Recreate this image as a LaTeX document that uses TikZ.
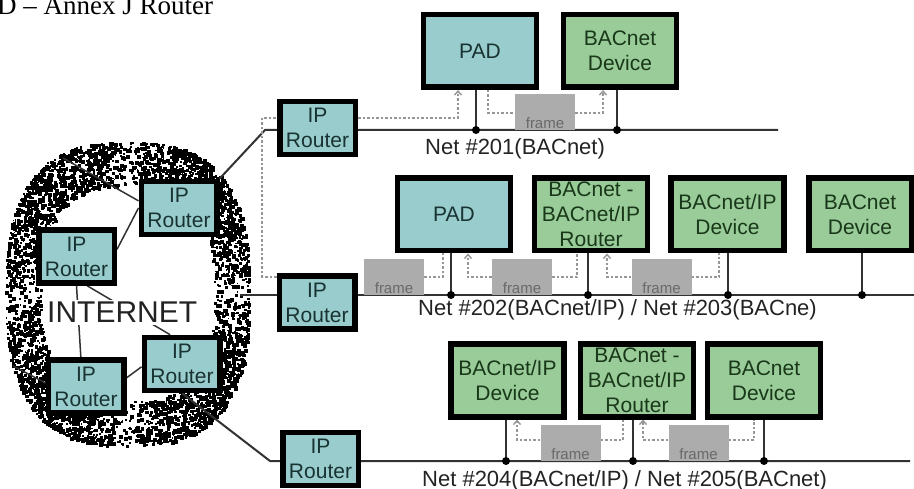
\documentclass[tikz,border=0pt]{standalone}
\usepackage{fontspec}
\setmainfont{Liberation Sans}
\newfontfamily\titleserif{Liberation Serif}
\usetikzlibrary{arrows.meta}
\usetikzlibrary{backgrounds}
\definecolor{routerfill}{RGB}{153,204,204}
\definecolor{devicefill}{RGB}{153,204,153}
\definecolor{routertext}{RGB}{25,50,50}
\definecolor{devicetext}{RGB}{25,55,25}
\definecolor{framefill}{RGB}{172,172,172}
\definecolor{frametext}{RGB}{105,105,105}
\definecolor{flowgray}{RGB}{150,150,150}
\definecolor{busgray}{RGB}{50,50,50}
\definecolor{labelgray}{RGB}{35,35,35}
\newcommand{\boxfont}{\fontsize{21}{25}\selectfont}
\newcommand{\netfont}{\fontsize{22}{26}\selectfont}
\newcommand{\framefont}{\fontsize{15}{17}\selectfont}
\newcommand{\inetfont}{\fontsize{30}{34}\selectfont}
\begin{document}
\begin{tikzpicture}[x=1pt, y=-1pt,
			     netbox/.style={draw=black, line width=5.5pt, inner sep=0pt, align=center, font=\boxfont},
			     iprouter/.style={netbox, fill=routerfill, text=routertext, minimum width=75.5pt, minimum height=53pt},
			     pad/.style={netbox, fill=routerfill, text=routertext, minimum width=113pt, minimum height=72.5pt},
			     device/.style={netbox, fill=devicefill, text=devicetext, minimum width=113pt, minimum height=72.5pt},
			     framebox/.style={fill=framefill, inner sep=0pt, minimum width=60pt, minimum height=36pt,
			        label={[anchor=south, inner sep=1pt, font=\framefont, text=frametext]south:frame}},
			     busdot/.style={circle, fill=black, inner sep=0pt, minimum size=8pt},
			     busline/.style={draw=busgray, line width=2pt},
			     netline/.style={draw=busgray, line width=1.5pt},
			     flowline/.style={draw=flowgray, line width=1.4pt, dash pattern=on 2.5pt off 2pt},
			     flowarrow/.style={flowline, -{Straight Barb[length=4pt, width=7pt]}},
			     netlabel/.style={anchor=base west, inner sep=0pt, font=\netfont, text=labelgray}
			     ]
\useasboundingbox (0,0) rectangle (914,489);
\node[anchor=base west, inner sep=0pt, font=\titleserif\fontsize{27}{30}\selectfont] (title) at (-3,15) {D – Annex J Router};
%
\node[iprouter] (ra) at (179,208) {IP\\Router};
\node[iprouter] (rb) at (76.5,256.5) {IP\\Router};
\node[iprouter] (rc) at (86,386.5) {IP\\Router};
\node[iprouter] (rd) at (182,364) {IP\\Router};
\node[fill=white, inner sep=2pt, anchor=base west, font=\inetfont, text=labelgray] (inet) at (45,323) {INTERNET};
%
\node[iprouter] (r1) at (317.5,128) {IP\\Router};
\node[pad] (pad1) at (480,51) {PAD};
\node[device] (dev1) at (620,51) {BACnet\\Device};
\node[framebox] (f1) at (545,112) {};
\node[netlabel] (net1) at (425,155) {Net \#201(BACnet)};
%
\node[iprouter] (r2) at (317,302.5) {IP\\Router};
\node[pad] (pad2) at (454,214.5) {PAD};
\node[device] (brt2) at (591,214.5) {BACnet -\\BACnet/IP\\Router};
\node[device] (ipdev2) at (727.5,214.5) {BACnet/IP\\Device};
\node[device, minimum width=102.5pt] (dev2) at (860,214.5) {BACnet\\Device};
\node[framebox] (fa) at (394,277) {};
\node[framebox] (fb) at (522,277) {};
\node[framebox] (fc) at (661.5,277) {};
\node[netlabel] (net2) at (418,316) {Net \#202(BACnet/IP) / Net \#203(BACne)};
%
\node[iprouter] (r3) at (320.5,459) {IP\\Router};
\node[device] (ipdev3) at (507.5,380.5) {BACnet/IP\\Device};
\node[device] (brt3) at (637,380.5) {BACnet -\\BACnet/IP\\Router};
\node[device] (dev3) at (764,380.5) {BACnet\\Device};
\node[framebox] (fd) at (570.5,443) {};
\node[framebox] (fe) at (698.5,443) {};
\node[netlabel] (net3) at (422,486) {Net \#204(BACnet/IP) / Net \#205(BACnet)};
%
\node[busdot] (b11) at (476,130) {};
\node[busdot] (b12) at (617,130) {};
\node[busdot] (b21) at (451,295) {};
\node[busdot] (b22) at (588,295) {};
\node[busdot] (b23) at (728,295) {};
\node[busdot] (b24) at (862,295) {};
\node[busdot] (b31) at (506,461) {};
\node[busdot] (b32) at (633,461) {};
\node[busdot] (b33) at (764,461) {};
%
\coordinate (c1) at (63,158);
\coordinate (c2) at (13,366);
\coordinate (k1) at (265,130);
\coordinate (k2) at (240,295);
\coordinate (k3) at (270,461);
\coordinate (e1) at (778,130);
\coordinate (e2) at (914,295);
\coordinate (e3) at (910,461);
\coordinate (q1) at (262,118);
\coordinate (q2) at (262,277);
\coordinate (q3) at (458,118);
\coordinate (q4) at (488,113);
\coordinate (q5) at (603,113);
\coordinate (q6) at (443,277);
\coordinate (q7) at (468,277);
\coordinate (q8) at (577,277);
\coordinate (q9) at (607,277);
\coordinate (q10) at (719,277);
\coordinate (q11) at (517,440);
\coordinate (q12) at (623,440);
\coordinate (q13) at (643,440);
\coordinate (q14) at (754,440);
%
\begin{scope}[on background layer]
\fill[white] (0,0) rectangle (914,489);
\pgfmathsetseed{4711}
\foreach \i in {1,...,4500}{
  \pgfmathsetmacro\spang{360*rnd}
  \pgfmathsetmacro\sprad{1.03-0.3*rnd^1.3}
  \pgfmathsetmacro\spc{cos(\spang)}
  \pgfmathsetmacro\sps{sin(\spang)}
  \pgfmathsetmacro\spx{127+118*\sprad*(\spc<0?-1:1)*(abs(\spc)+0.001)^0.75}
  \pgfmathsetmacro\spy{293+147*\sprad*(\sps<0?-1:1)*(abs(\sps)+0.001)^0.75}
  \pgfmathsetmacro\spz{1.4+2.8*rnd}
  \fill (\spx,\spy) rectangle ++(\spz,\spz);
}
%
\draw[netline] (ra.170) -- (c1);
\draw[netline] (rb.10) -- (ra.west);
\draw[netline] (rb.south) -- (rc.100);
\draw[netline] (rb.-70) -- (rd.112);
\draw[netline] (rc.12) -- (rd.184);
\draw[netline] (rc.175) -- (c2);
\draw[busline] (ra.north east) -- (k1) -- (e1);
\draw[busline] (k2) -- (e2);
\draw[busline] (rd.south) -- (k3) -- (e3);
\foreach \b/\n in {b11/pad1, b12/dev1, b21/pad2, b22/brt2, b23/ipdev2, b24/dev2, b31/ipdev3, b32/brt3, b33/dev3}
  \draw[busline] (\b.center) -- (\b.center |- \n.south);
%
\draw[flowline] (r2.west |- q2) -- (q2) -- (q1) -- (r1.west |- q1);
\draw[flowarrow] (r1.east |- q3) -- (q3) -- (q3 |- pad1.south);
\draw[flowline] (q4 |- pad1.south) -- (q4) -- (f1.west |- q4);
\draw[flowarrow] (f1.east |- q5) -- (q5) -- (q5 |- dev1.south);
\draw[flowline] (fa.east |- q6) -- (q6) -- (q6 |- pad2.south);
\draw[flowarrow] (fb.west |- q7) -- (q7) -- (q7 |- pad2.south);
\draw[flowline] (fb.east |- q8) -- (q8) -- (q8 |- brt2.south);
\draw[flowarrow] (fc.west |- q9) -- (q9) -- (q9 |- brt2.south);
\draw[flowline] (fc.east |- q10) -- (q10) -- (q10 |- ipdev2.south);
\draw[flowarrow] (fd.west |- q11) -- (q11) -- (q11 |- ipdev3.south);
\draw[flowline] (fd.east |- q12) -- (q12) -- (q12 |- brt3.south);
\draw[flowarrow] (fe.west |- q13) -- (q13) -- (q13 |- brt3.south);
\draw[flowline] (fe.east |- q14) -- (q14) -- (q14 |- dev3.south);
\end{scope}
\end{tikzpicture}
\end{document}
